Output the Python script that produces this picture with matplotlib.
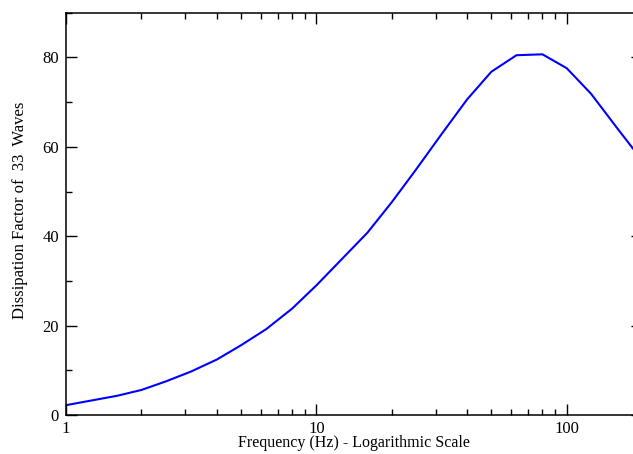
import matplotlib
matplotlib.use("Agg")
import matplotlib.pyplot as plt
from matplotlib.ticker import FixedLocator, LogLocator, NullFormatter

# ---------------------------------------------------------------- data
freq_hz = [1, 1.25, 1.6, 2, 2.5, 3.15, 4, 5, 6.3, 8, 10, 12.5, 16, 20, 25,
           31.5, 40, 50, 63, 80, 100, 125, 160, 200]
dissipation = [2.2, 3.2, 4.3, 5.6, 7.5, 9.7, 12.4, 15.6, 19.2, 23.8, 29.0, 34.6,
               40.8, 47.6, 54.9, 62.7, 70.6, 76.8, 80.5, 80.7, 77.6, 71.9, 64.0, 57.0]

x_ticks = [1, 10, 100]
x_tick_labels = ["1", "10", "100"]
y_ticks = [0, 20, 40, 60, 80]
y_minor = [10, 30, 50, 70, 90]

plt.rcParams["font.family"] = ["Liberation Serif", "DejaVu Serif"]

# ---------------------------------------------------------------- chart
fig = plt.figure(figsize=(6.33, 4.54), dpi=100)
# right edge of the axes sits just past the figure, as in the cropped original
ax = fig.add_axes([0.1043, 0.0859, 0.910, 0.886])

ax.plot(freq_hz, dissipation, color="#0000ff", lw=1.5)

ax.set_xscale("log")
ax.set_xlim(1, 200)
ax.set_ylim(0, 90)

ax.xaxis.set_major_locator(FixedLocator(x_ticks))
ax.set_xticklabels(x_tick_labels)
ax.xaxis.set_minor_locator(LogLocator(base=10, subs=range(2, 10)))
ax.xaxis.set_minor_formatter(NullFormatter())
ax.yaxis.set_major_locator(FixedLocator(y_ticks))
ax.yaxis.set_minor_locator(FixedLocator(y_minor))

ax.tick_params(which="both", direction="in", top=True, right=True,
               labelsize=12, width=1.0, colors="black")
ax.tick_params(which="major", length=8)
ax.tick_params(which="minor", length=4)
ax.tick_params(axis="x", pad=4)
ax.tick_params(axis="y", pad=5)
for s in ax.spines.values():
    s.set_linewidth(1.1)

ax.set_xlabel("Frequency (Hz) - Logarithmic Scale", fontsize=11.5, labelpad=-1)
ax.set_ylabel("Dissipation Factor of  33  Waves", fontsize=12)
ax.yaxis.set_label_coords(-0.066, 0.51)

fig.savefig("out.png", dpi=100)
plt.close(fig)
